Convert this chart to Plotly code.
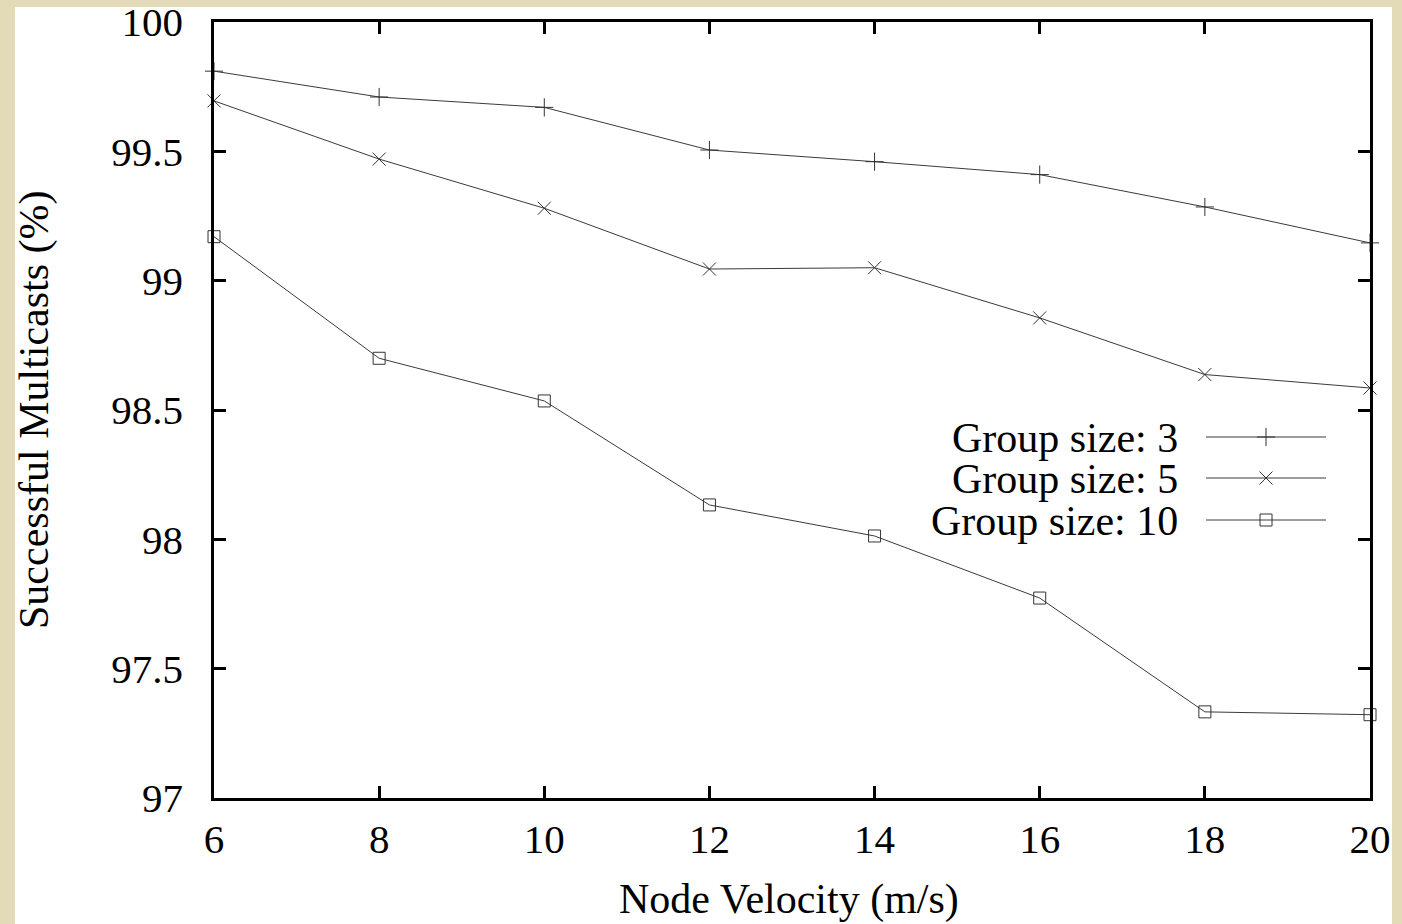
import plotly.graph_objects as go

velocity = [6, 8, 10, 12, 14, 16, 18, 20]
group3 = [99.81, 99.71, 99.67, 99.505, 99.46, 99.41, 99.285, 99.146]
group5 = [99.695, 99.47, 99.28, 99.045, 99.05, 98.856, 98.637, 98.585]
group10 = [99.17, 98.70, 98.535, 98.133, 98.013, 97.773, 97.333, 97.322]
series_names = ["Group size: 3", "Group size: 5", "Group size: 10"]
symbols = ["cross-thin-open", "x-thin-open", "square-open"]
x_ticks = [6, 8, 10, 12, 14, 16, 18, 20]
y_ticks = [97, 97.5, 98, 98.5, 99, 99.5, 100]
y_tick_text = ["97", "97.5", "98", "98.5", "99", "99.5", "100"]

W, H = 1402, 924
L, R, T, B = 214, 1370, 22, 798
FONT = "Liberation Serif, Times New Roman, serif"
LINE = "#3a3a3a"

fig = go.Figure()
for name, ys, sym in zip(series_names, [group3, group5, group10], symbols):
    fig.add_trace(go.Scatter(
        x=velocity, y=ys, mode="lines+markers", name=name,
        line=dict(color=LINE, width=1),
        marker=dict(symbol=sym, size=13 if sym != "square-open" else 12,
                    color="#333333", line=dict(color="#333333", width=1)),
        cliponaxis=False, showlegend=False,
    ))

# legend (text on left, sample on right as in the original)
leg_y = [437, 478, 520]
for name, sym, yy in zip(series_names, symbols, leg_y):
    yp = (B - yy) / (B - T)
    fig.add_annotation(x=(1180 - L) / (R - L), y=(B - yy - 1) / (B - T), xref="paper", yref="paper",
                       text=name, showarrow=False, xanchor="right", yanchor="middle",
                       font=dict(family=FONT, size=42, color="black"))
    fig.add_trace(go.Scatter(
        x=[(1206 - L) / (R - L), (1326 - L) / (R - L)], y=[yp, yp],
        xaxis="x2", yaxis="y2", mode="lines", line=dict(color=LINE, width=1),
        showlegend=False, hoverinfo="skip"))
    fig.add_trace(go.Scatter(
        x=[(1266 - L) / (R - L)], y=[yp], xaxis="x2", yaxis="y2", mode="markers",
        marker=dict(symbol=sym, size=13 if sym != "square-open" else 12,
                    color="#333333", line=dict(color="#333333", width=1)),
        showlegend=False, hoverinfo="skip"))

# white page area
fig.add_shape(type="rect", xref="paper", yref="paper", layer="below",
              x0=(15 - L) / (R - L), x1=(1392 - L) / (R - L),
              y0=(B - 930) / (B - T), y1=(B - 7) / (B - T),
              fillcolor="white", line=dict(width=0))

fig.add_annotation(x=(789 - L) / (R - L), y=(B - 899) / (B - T), xref="paper", yref="paper",
                   text="Node Velocity (m/s)", showarrow=False,
                   xanchor="center", yanchor="middle",
                   font=dict(family=FONT, size=42, color="black"))
fig.add_annotation(x=(34 - L) / (R - L), y=(B - 410) / (B - T), xref="paper", yref="paper",
                   text="Successful Multicasts (%)", showarrow=False, textangle=-90,
                   xanchor="center", yanchor="middle",
                   font=dict(family=FONT, size=42, color="black"))

axis_common = dict(showline=True, linecolor="black", linewidth=2.5, mirror="ticks",
                   ticks="inside", ticklen=12, tickwidth=2.5, tickcolor="black",
                   showgrid=False, zeroline=False, automargin=False,
                   ticklabeloverflow="allow",
                   tickfont=dict(family=FONT, size=41, color="black"))
fig.update_layout(
    width=W, height=H,
    margin=dict(l=L, r=W - R, t=T, b=H - B),
    paper_bgcolor="#E3DAB8", plot_bgcolor="white",
    xaxis=dict(range=[6, 20], tickvals=x_ticks, ticklabelstandoff=3, **axis_common),
    yaxis=dict(range=[97, 100], tickvals=y_ticks, ticktext=y_tick_text,
               ticklabelstandoff=20, **axis_common),
    xaxis2=dict(range=[0, 1], overlaying="x", visible=False, fixedrange=True),
    yaxis2=dict(range=[0, 1], overlaying="y", visible=False, fixedrange=True),
    showlegend=False,
)
fig.write_html("out.html")
